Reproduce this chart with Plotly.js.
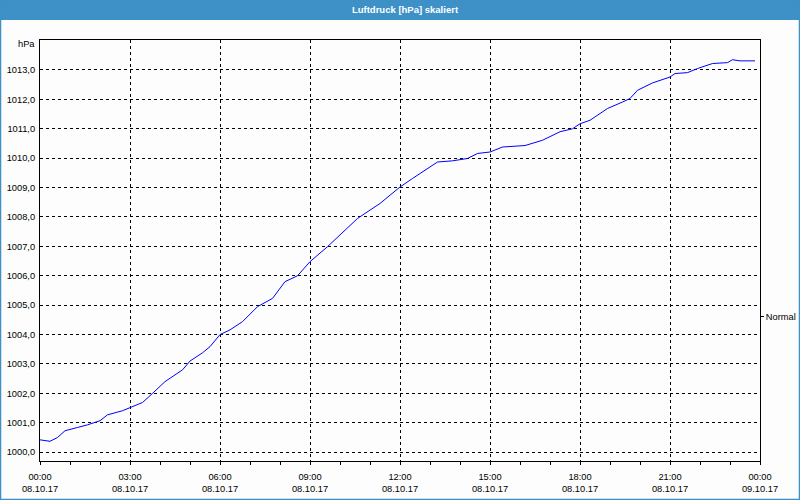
<!DOCTYPE html>
<html>
<head>
<meta charset="utf-8">
<script src="https://cdn.plot.ly/plotly-3.0.1.min.js"></script>
<style>
html,body{margin:0;padding:0;background:#fcfdfc;}
#chart{width:800px;height:500px;}
</style>
</head>
<body>
<div id="chart"></div>
<script>
// Times (08.10.17) and pressure values in hPa
var times = ['00:00','00:20','00:35','00:50','01:15','01:35','02:00','02:15','02:45','03:00',
  '03:25','03:45','04:10','04:45','05:00','05:25','05:40','06:00','06:20','06:45',
  '07:15','07:45','08:10','08:35','09:00','09:35','10:00','10:35','11:20','12:00',
  '12:25','12:45','13:15','13:45','14:15','14:35','15:00','15:25','16:10','16:45',
  '17:20','17:45','18:00','18:20','18:55','19:25','19:40','19:55','20:25','21:00',
  '21:10','21:35','21:55','22:25','22:55','23:05','23:20','23:50'];
var pressure = [1000.42,1000.37,1000.50,1000.73,1000.84,1000.93,1001.07,1001.27,1001.41,1001.52,
  1001.69,1002.00,1002.40,1002.80,1003.10,1003.38,1003.59,1004.00,1004.16,1004.44,
  1004.95,1005.23,1005.80,1006.00,1006.48,1006.99,1007.38,1007.95,1008.46,1009.02,
  1009.31,1009.53,1009.87,1009.91,1009.99,1010.16,1010.21,1010.38,1010.43,1010.61,
  1010.90,1011.00,1011.17,1011.29,1011.69,1011.91,1012.03,1012.31,1012.56,1012.76,
  1012.88,1012.91,1013.05,1013.22,1013.25,1013.35,1013.31,1013.31];
var yTicks = [1000,1001,1002,1003,1004,1005,1006,1007,1008,1009,1010,1011,1012,1013];
var rightTickVals = [1004.6];
var rightTickText = ['Normal'];
var day = '2017-10-08';
var xRange = ['2017-10-08 00:00', '2017-10-09 00:00'];
var yRange = [999.7, 1014.02];

var x = times.map(function(t){ return day + ' ' + t; });

var W = 800, H = 500, ml = 40, mr = 40, mt = 40, mb = 39;
var pw = W - ml - mr, ph = H - mt - mb;
var fontFam = 'Liberation Sans, Arial, sans-serif';

var trace = {
  x: x, y: pressure, type: 'scatter', mode: 'lines',
  line: {color: '#0000ff', width: 1}, hoverinfo: 'skip', showlegend: false
};
var dummy = {x: [x[0]], y: [pressure[0]], yaxis: 'y2', type: 'scatter', mode: 'none', showlegend: false, hoverinfo: 'skip'};

var layout = {
  width: W, height: H,
  margin: {l: ml, r: mr, t: mt, b: mb},
  paper_bgcolor: '#fcfdfc', plot_bgcolor: '#fcfdfc',
  separators: ',.',
  font: {family: fontFam, size: 9.3, color: '#000'},
  title: {text: '<b>Luftdruck [hPa] skaliert</b>', x: 405/800, xanchor: 'center', xref: 'container',
          y: 1 - 10/500, yref: 'container', yanchor: 'middle',
          font: {family: fontFam, size: 9.5, color: '#ffffff'}},
  xaxis: {
    type: 'date', range: xRange, tick0: day, dtick: 3*3600000,
    tickformat: '%H:%M<br>%d.%m.%y',
    ticks: 'outside', ticklen: 3, tickcolor: '#000', tickwidth: 1,
    minor: {dtick: 3600000, ticks: 'outside', ticklen: 3, tickcolor: '#000', showgrid: false},
    showgrid: true, gridcolor: '#000', griddash: '3px,3px', gridwidth: 1,
    showline: true, linecolor: '#000', linewidth: 1, mirror: true,
    zeroline: false, fixedrange: true, ticklabelstandoff: 4
  },
  yaxis: {
    range: yRange, tickvals: yTicks, tickformat: '.1f',
    ticks: '', showgrid: true, gridcolor: '#000', griddash: '3px,3px', gridwidth: 1,
    showline: true, linecolor: '#000', linewidth: 1, mirror: true,
    zeroline: false, fixedrange: true, ticklabelstandoff: 2
  },
  yaxis2: {
    overlaying: 'y', side: 'right', range: yRange,
    tickvals: rightTickVals, ticktext: rightTickText,
    ticks: 'outside', ticklen: 3, tickcolor: '#000',
    showgrid: false, showline: false, zeroline: false, fixedrange: true
  },
  shapes: [
    {type: 'rect', xref: 'paper', yref: 'paper', layer: 'below',
     x0: -ml/pw, x1: 1 + mr/pw, y0: 1 + (mt-20)/ph, y1: 1 + mt/ph,
     fillcolor: '#3d91c7', line: {width: 0}},
    {type: 'rect', xref: 'paper', yref: 'paper', layer: 'below',
     x0: -ml/pw, x1: 1 + mr/pw, y0: -mb/ph, y1: 1 + mt/ph,
     fillcolor: 'rgba(0,0,0,0)', line: {color: '#3d91c7', width: 2.5}}
  ],
  annotations: [
    {text: 'hPa', xref: 'paper', yref: 'paper', x: 0, y: 1, xanchor: 'right', yanchor: 'middle',
     xshift: -3, yshift: -4, showarrow: false, font: {family: fontFam, size: 9.3, color: '#000'}}
  ]
};

Plotly.newPlot('chart', [trace, dummy], layout, {displayModeBar: false, staticPlot: true});
</script>
</body>
</html>
